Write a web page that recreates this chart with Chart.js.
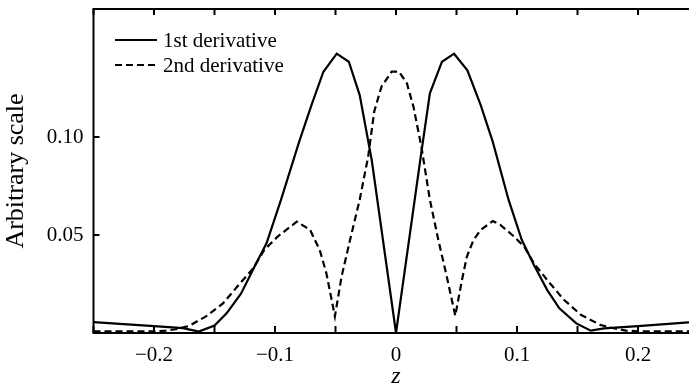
<!DOCTYPE html>
<html>
<head>
<meta charset="utf-8">
<script src="https://cdn.jsdelivr.net/npm/chart.js@4/dist/chart.umd.min.js"></script>
<style>
  html, body { margin: 0; padding: 0; overflow: hidden; background: #fff; }
  #wrap { width: 700px; height: 387px; }
</style>
</head>
<body>
<div id="wrap"><canvas id="chart" width="700" height="387"></canvas></div>
<script>
// --- data ---
const zFirst = [-0.25, -0.20, -0.176, -0.163, -0.150, -0.140, -0.128, -0.117, -0.107, -0.095,
  -0.080, -0.070, -0.060, -0.049, -0.039, -0.030, -0.020, 0, 0.020, 0.028,
  0.038, 0.048, 0.059, 0.070, 0.080, 0.093, 0.104, 0.114, 0.125, 0.135,
  0.149, 0.161, 0.172, 0.20, 0.25];
const firstDeriv = [0.0055, 0.0035, 0.0025, 0.0007, 0.0038, 0.010, 0.0202, 0.0338, 0.0458, 0.068,
  0.0976, 0.116, 0.1333, 0.1425, 0.1384, 0.1214, 0.088, 0.0, 0.088, 0.1223,
  0.1384, 0.1425, 0.134, 0.1163, 0.0975, 0.068, 0.0474, 0.0347, 0.0219, 0.0126,
  0.0049, 0.0012, 0.0024, 0.0035, 0.0058];

const zSecond = [-0.25, -0.20, -0.19, -0.182, -0.171, -0.157, -0.143, -0.130, -0.118, -0.109,
  -0.098, -0.082, -0.071, -0.063, -0.0575, -0.0505, -0.045, -0.038, -0.030, -0.023,
  -0.018, -0.012, -0.0036, 0.0025, 0.009, 0.0144, 0.021, 0.028, 0.035, 0.042,
  0.049, 0.0545, 0.0586, 0.064, 0.070, 0.080, 0.086, 0.097, 0.106, 0.114,
  0.125, 0.139, 0.153, 0.169, 0.178, 0.19, 0.20, 0.25];
const secondDeriv = [0.0008, 0.0008, 0.0012, 0.0019, 0.0036, 0.0085, 0.0151, 0.0245, 0.033, 0.0423,
  0.0491, 0.0568, 0.0526, 0.0423, 0.0304, 0.0085, 0.0287, 0.0474, 0.068, 0.090,
  0.113, 0.1257, 0.1333, 0.1333, 0.1274, 0.1155, 0.095, 0.068, 0.0474, 0.0287,
  0.0088, 0.027, 0.039, 0.0474, 0.0526, 0.0571, 0.0553, 0.0495, 0.044, 0.0355,
  0.027, 0.0168, 0.0092, 0.0041, 0.0027, 0.0012, 0.0009, 0.0009];

const seriesLabels = ['1st derivative', '2nd derivative'];

const xTickValues = [-0.25, -0.20, -0.15, -0.10, -0.05, 0, 0.05, 0.10, 0.15, 0.20, 0.25];
const xTickLabels = ['', '\u22120.2', '', '\u22120.1', '', '0', '', '0.1', '', '0.2', ''];
const yTickValues = [0.05, 0.10];
const yTickLabels = ['0.05', '0.10'];

const SERIF = '"Liberation Serif", "Times New Roman", serif';

function toPoints(xs, ys) {
  return xs.map(function (x, i) { return { x: x, y: ys[i] }; });
}

// frame + inward tick marks
const frame = {
  id: 'frame',
  afterDatasetsDraw: function (chart) {
    const ctx = chart.ctx;
    const a = chart.chartArea;
    const xs = chart.scales.x;
    const ys = chart.scales.y;
    ctx.save();
    ctx.strokeStyle = '#000';
    ctx.lineWidth = 2;
    ctx.strokeRect(a.left, a.top, a.right - a.left, a.bottom - a.top);
    ctx.beginPath();
    xTickValues.forEach(function (v) {
      const px = xs.getPixelForValue(v);
      ctx.moveTo(px, a.top);
      ctx.lineTo(px, a.top + 6);
      ctx.moveTo(px, a.bottom);
      ctx.lineTo(px, a.bottom - 7);
    });
    yTickValues.forEach(function (v) {
      const py = ys.getPixelForValue(v);
      ctx.moveTo(a.left, py);
      ctx.lineTo(a.left + 6, py);
    });
    ctx.stroke();
    ctx.restore();
  }
};

// legend in the upper left of the plot
const innerLegend = {
  id: 'innerLegend',
  afterDraw: function (chart) {
    const ctx = chart.ctx;
    ctx.save();
    ctx.font = '21px ' + SERIF;
    ctx.fillStyle = '#000';
    ctx.textBaseline = 'alphabetic';
    chart.data.datasets.forEach(function (ds, i) {
      const y = 40 + i * 25;
      ctx.beginPath();
      ctx.strokeStyle = '#000';
      ctx.lineWidth = 2;
      ctx.setLineDash(ds.borderDash || []);
      ctx.moveTo(115, y);
      ctx.lineTo(157, y);
      ctx.stroke();
      ctx.setLineDash([]);
      ctx.fillText(ds.label, 163, y + 7);
    });
    ctx.restore();
  }
};

new Chart(document.getElementById('chart'), {
  type: 'line',
  data: {
    datasets: [
      {
        label: seriesLabels[0],
        data: toPoints(zFirst, firstDeriv),
        borderColor: '#000',
        borderWidth: 2.2,
        pointRadius: 0,
        tension: 0,
        fill: false
      },
      {
        label: seriesLabels[1],
        data: toPoints(zSecond, secondDeriv),
        borderColor: '#000',
        borderWidth: 2.2,
        borderDash: [7, 4],
        pointRadius: 0,
        tension: 0,
        fill: false
      }
    ]
  },
  options: {
    responsive: false,
    animation: false,
    layout: { padding: { top: 9, right: 1.5, left: 0, bottom: 0 } },
    plugins: {
      legend: { display: false },
      tooltip: { enabled: false }
    },
    scales: {
      x: {
        type: 'linear',
        min: -0.25,
        max: 0.25,
        afterBuildTicks: function (scale) {
          scale.ticks = xTickValues.map(function (v) { return { value: v }; });
        },
        ticks: {
          callback: function (value, index) { return xTickLabels[index]; },
          color: '#000',
          font: { family: SERIF, size: 21 },
          padding: 10,
          maxRotation: 0,
          autoSkip: false
        },
        grid: { display: false, drawTicks: false },
        border: { display: false },
        title: {
          display: true,
          text: 'z',
          color: '#000',
          font: { family: SERIF, size: 24, style: 'italic' },
          padding: { top: 0, bottom: -4 }
        },
        afterFit: function (scale) {
          scale.height = 54;
          scale.paddingLeft = 0;
          scale.paddingRight = 0;
        }
      },
      y: {
        type: 'linear',
        min: 0,
        max: 0.1653,
        afterBuildTicks: function (scale) {
          scale.ticks = yTickValues.map(function (v) { return { value: v }; });
        },
        ticks: {
          callback: function (value, index) { return yTickLabels[index]; },
          color: '#000',
          font: { family: SERIF, size: 21 },
          padding: 10
        },
        grid: { display: false, drawTicks: false },
        border: { display: false },
        title: {
          display: true,
          text: 'Arbitrary scale',
          color: '#000',
          font: { family: SERIF, size: 26 },
          padding: { top: 1, bottom: 0 }
        },
        afterFit: function (scale) {
          scale.width = 93.5;
          scale.paddingTop = 0;
          scale.paddingBottom = 0;
        }
      }
    }
  },
  plugins: [frame, innerLegend]
});
</script>
</body>
</html>
